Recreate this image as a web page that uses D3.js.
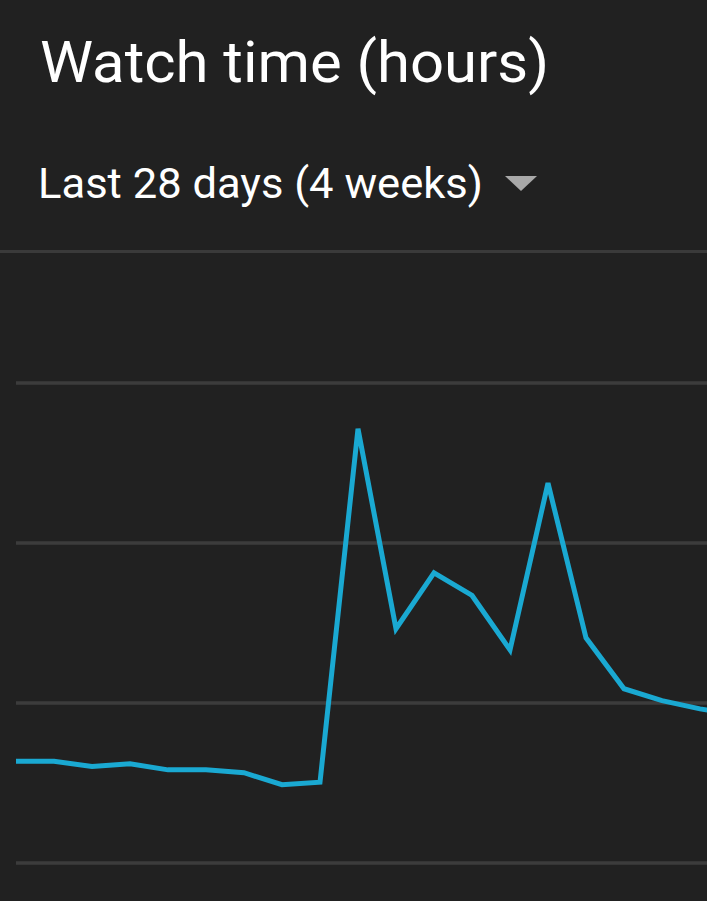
<!DOCTYPE html>
<html>
<head>
<meta charset="utf-8">
<script src="https://cdn.jsdelivr.net/npm/d3@7"></script>
<style>
  html, body { margin: 0; padding: 0; background: #212121; overflow: hidden; }
  svg { display: block; }
</style>
</head>
<body>
<svg id="chart" width="707" height="901"></svg>
<script>
// ---- data ----
const title = "Watch time (hours)";
const subtitle = "Last 28 days (4 weeks)";
const days = d3.range(0, 20); // visible day indices (chart scrolled/cropped)
const watchHours = [0.633, 0.633, 0.600, 0.617, 0.579, 0.579, 0.561, 0.486, 0.502,
                    2.711, 1.461, 1.811, 1.669, 1.329, 2.371, 1.404, 1.086, 1.012, 0.960, 0.925];
const yTicks = [0, 1, 2, 3];

// ---- layout ----
const W = 707, H = 901;
const svg = d3.select("#chart");
svg.append("rect").attr("width", W).attr("height", H).attr("fill", "#212121");

// title
svg.append("text").text(title)
  .attr("x", 40).attr("y", 82)
  .attr("fill", "#ffffff")
  .attr("font-family", "Roboto, 'Noto Sans', sans-serif")
  .attr("font-size", 57)
  .attr("textLength", 509)
  .attr("lengthAdjust", "spacingAndGlyphs");

svg.append("text").text(subtitle)
  .attr("x", 38).attr("y", 197.5)
  .attr("fill", "#ffffff")
  .attr("font-family", "Roboto, 'Noto Sans', sans-serif")
  .attr("font-size", 42)
  .attr("textLength", 445)
  .attr("lengthAdjust", "spacingAndGlyphs");

// dropdown triangle
svg.append("path")
  .attr("d", "M505,176 L537,176 L521,191 Z")
  .attr("fill", "#a8a8a8");

// separator
svg.append("rect").attr("x", 0).attr("y", 250).attr("width", W).attr("height", 3)
  .attr("fill", "#3a3a3a");

// scales
const x = d3.scaleLinear().domain([0, 17]).range([16, 662]);
const y = d3.scaleLinear().domain([0, 3]).range([862.5, 382.5]);

// gridlines
const grid = svg.append("g")
  .attr("transform", "translate(16,0)")
  .call(d3.axisRight(y).tickValues(yTicks).tickSize(W - 16).tickFormat(""));
grid.select(".domain").remove();
grid.selectAll(".tick line").attr("stroke", "#3c3c3c").attr("stroke-width", 3.5);

// line
svg.append("clipPath").attr("id", "clip")
  .append("rect").attr("x", 16).attr("y", 260).attr("width", W - 16).attr("height", H - 260);

const line = d3.line().x((d, i) => x(days[i])).y(d => y(d));
svg.append("path")
  .datum(watchHours)
  .attr("clip-path", "url(#clip)")
  .attr("d", line)
  .attr("fill", "none")
  .attr("stroke", "#1aa9d2")
  .attr("stroke-width", 5)
  .attr("stroke-linejoin", "miter")
  .attr("stroke-linecap", "butt");
</script>
</body>
</html>
